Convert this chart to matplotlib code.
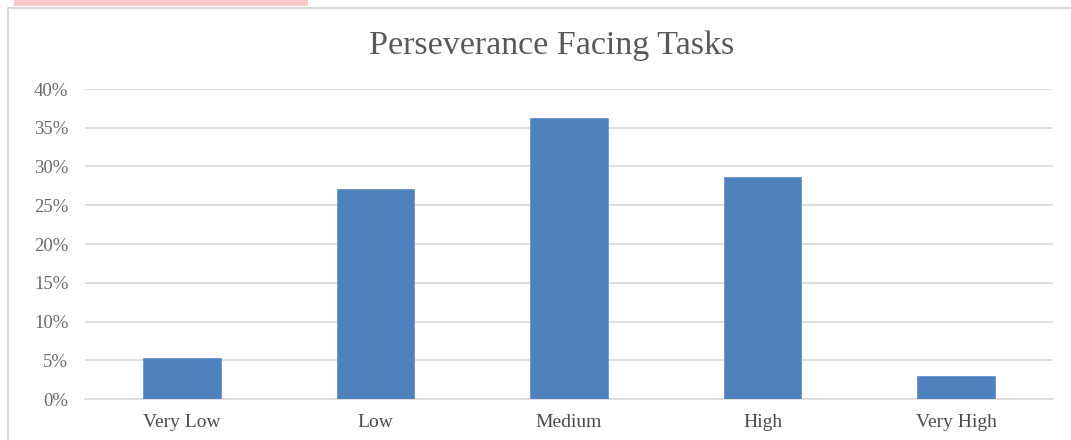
import matplotlib
matplotlib.use("Agg")
import matplotlib.pyplot as plt
from matplotlib.patches import Rectangle
from matplotlib.ticker import FuncFormatter, MultipleLocator

categories = ["Very Low", "Low", "Medium", "High", "Very High"]
values = [5.3, 27.1, 36.3, 28.7, 3.0]
title = "Perseverance Facing Tasks"

W, H = 1071, 440
fig = plt.figure(figsize=(W / 100, H / 100), dpi=100)
plt.rcParams['font.family'] = ['Liberation Serif', 'DejaVu Serif']

# outer chart frame and pink strip at top
fig.patches.append(Rectangle((8 / W, -0.1), 1.2, 1 - 8 / H + 0.1, transform=fig.transFigure,
                             facecolor='white', edgecolor='#d0d0d0', linewidth=1.2, zorder=-2))
fig.patches.append(Rectangle((14 / W, 1 - 6 / H), 294 / W, 6 / H, transform=fig.transFigure,
                             facecolor='#fcc8c8', edgecolor='none', zorder=-1))

ax = fig.add_axes([85 / W, 1 - 399 / H, (1053 - 85) / W, (399 - 89) / H])
ax.set_facecolor('none')
x = range(len(categories))
ax.bar(x, values, width=0.4, color='#4f81bd', edgecolor='#6a95cc', linewidth=0.6, zorder=3)
ax.set_xlim(-0.5, len(categories) - 0.5)
ax.set_ylim(0, 40)
ax.yaxis.set_major_locator(MultipleLocator(5))
ax.yaxis.set_major_formatter(FuncFormatter(lambda v, p: f"{int(v)}%"))
ax.grid(axis='y', color='#d9d9d9', linewidth=1.2, zorder=0)
ax.set_axisbelow(True)
for s in ['top', 'right', 'left']:
    ax.spines[s].set_visible(False)
ax.spines['bottom'].set_color('#d9d9d9')
ax.spines['bottom'].set_linewidth(1.2)
ax.set_xticks(list(x))
ax.set_xticklabels(categories)
ax.tick_params(axis='y', length=0, pad=12, labelsize=13.5, labelcolor='#6a6a6a')
ax.tick_params(axis='x', length=0, pad=11, labelsize=14, labelcolor='#4a4a4a')

fig.text(552 / W, 1 - 46 / H, title, ha='center', va='center', fontsize=24.5, color='#595959')

fig.savefig("out.png", dpi=100)
